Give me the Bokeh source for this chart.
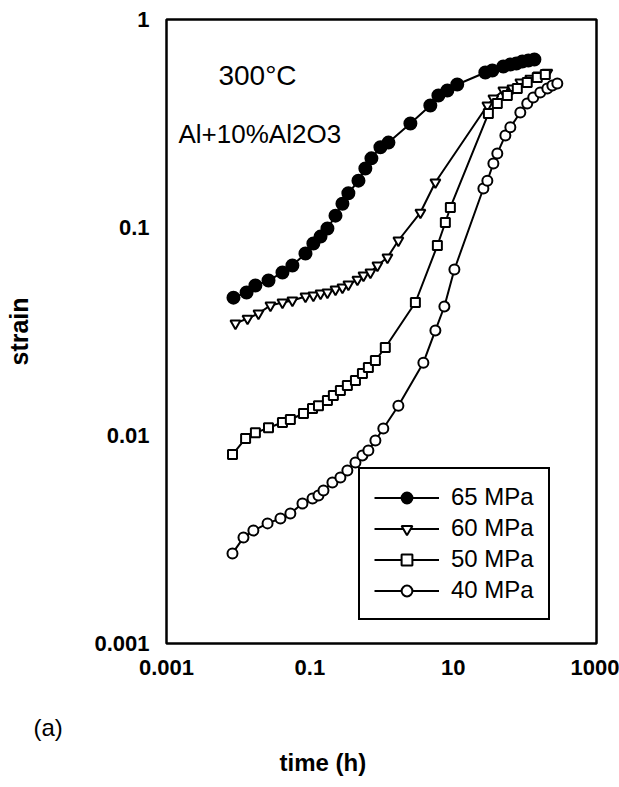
from bokeh.plotting import figure
from bokeh.models import Label, Legend, LegendItem, FixedTicker, CustomJSTickFormatter, Title
from bokeh.embed import file_html
from bokeh.resources import INLINE

# ---------------- data ----------------
t65 = [0.0086, 0.0131, 0.0174, 0.0265, 0.0415, 0.0571, 0.0869, 0.112, 0.141, 0.176,
       0.228, 0.285, 0.345, 0.477, 0.595, 0.723, 0.966, 1.25, 2.53, 4.8, 6.22, 8.3,
       11.4, 28.1, 35.2, 50.1, 62.8, 76.1, 92.3, 112, 136]
e65 = [0.046, 0.0487, 0.0526, 0.0556, 0.0608, 0.0657, 0.075, 0.0838, 0.0904, 0.0989,
       0.114, 0.130, 0.146, 0.168, 0.192, 0.215, 0.243, 0.256, 0.316, 0.386, 0.431, 0.456,
       0.487, 0.556, 0.569, 0.594, 0.608, 0.614, 0.628, 0.635, 0.642]

t60 = [0.00916, 0.0135, 0.0192, 0.0282, 0.0415, 0.0571, 0.0869, 0.112, 0.141, 0.176,
       0.228, 0.285, 0.345, 0.461, 0.56, 0.70, 0.877, 1.21, 1.72, 3.49, 5.65, 30, 36.4,
       50.1, 67, 86.5, 119, 154, 206]
e60 = [0.0346, 0.0365, 0.0386, 0.0422, 0.0436, 0.0446, 0.0466, 0.0471, 0.0482, 0.0487,
       0.0504, 0.0515, 0.0532, 0.0562, 0.0588, 0.0608, 0.0657, 0.0718, 0.0866, 0.118, 0.165,
       0.386, 0.417, 0.456, 0.466, 0.498, 0.520, 0.538, 0.556]

t50 = [0.00833, 0.0127, 0.0174, 0.0265, 0.0415, 0.0535, 0.0815, 0.109, 0.132, 0.176,
       0.213, 0.267, 0.334, 0.433, 0.542, 0.656, 0.822, 1.13, 2.97, 6.02, 7.78, 9.14, 31,
       41.3, 57, 78.5, 108, 149, 193]
e50 = [0.0081, 0.00968, 0.0103, 0.0109, 0.01155, 0.01194, 0.01276, 0.0135, 0.0139, 0.01473,
       0.01557, 0.01645, 0.01738, 0.01837, 0.01986, 0.02123, 0.02294, 0.0265, 0.0436, 0.0819,
       0.1057, 0.1248, 0.353, 0.395, 0.431, 0.466, 0.498, 0.526, 0.544]

t40 = [0.00833, 0.01186, 0.0163, 0.0257, 0.0389, 0.0535, 0.0789, 0.109, 0.132, 0.155,
       0.2065, 0.267, 0.334, 0.433, 0.542, 0.656, 0.822, 1.06, 1.72, 3.84, 5.65, 7.54, 10.4,
       26.4, 30, 36.4, 41.3, 53.5, 62.8, 86.5, 108, 131, 164, 206, 242, 284]
e40 = [0.00271, 0.00323, 0.00349, 0.00378, 0.00399, 0.00422, 0.00471, 0.00498, 0.00515,
       0.00544, 0.00594, 0.00628, 0.00679, 0.00741, 0.00802, 0.00847, 0.00946, 0.0108, 0.0139,
       0.0224, 0.032, 0.0417, 0.0628, 0.154, 0.168, 0.203, 0.227, 0.277, 0.303, 0.357, 0.395,
       0.422, 0.446, 0.466, 0.482, 0.492]

series_labels = ["65 MPa", "60 MPa", "50 MPa", "40 MPa"]

x_ticks = [0.001, 0.1, 10, 1000]
x_tick_labels = ["0.001", "0.1", "10", "1000"]
y_ticks = [0.001, 0.01, 0.1, 1]
y_tick_labels = ["0.001", "0.01", "0.1", "1"]

FONT = "Liberation Sans"

p = figure(width=619, height=787, x_axis_type="log", y_axis_type="log",
           x_range=(0.001, 1000), y_range=(0.001, 1),
           output_backend="svg", toolbar_location=None,
           min_border_left=166, min_border_right=23, min_border_top=19, min_border_bottom=144)
p.background_fill_color = "white"
p.border_fill_color = "white"
p.outline_line_color = "black"
p.outline_line_width = 2.5
p.grid.visible = False

fmt_code = """
for (let i = 0; i < t.length; i++) {
    if (Math.abs(Math.log10(tick / t[i])) < 1e-6) return l[i];
}
return '';
"""
p.xaxis.ticker = FixedTicker(ticks=x_ticks)
p.yaxis.ticker = FixedTicker(ticks=y_ticks)
p.xaxis.formatter = CustomJSTickFormatter(args=dict(t=x_ticks, l=x_tick_labels), code=fmt_code)
p.yaxis.formatter = CustomJSTickFormatter(args=dict(t=y_ticks, l=y_tick_labels), code=fmt_code)
for ax in (p.xaxis, p.yaxis):
    ax.axis_line_color = None
    ax.major_tick_line_color = None
    ax.minor_tick_line_color = None
    ax.major_label_text_font = FONT
    ax.major_label_text_font_size = "22px"
    ax.major_label_text_font_style = "bold"
    ax.major_label_text_color = "black"
p.xaxis.major_label_standoff = 10
p.yaxis.major_label_standoff = 11

p.yaxis.axis_label = "strain"
p.yaxis.axis_label_text_font = FONT
p.yaxis.axis_label_text_font_size = "25px"
p.yaxis.axis_label_text_font_style = "bold"
p.yaxis.axis_label_text_color = "black"
p.yaxis.axis_label_standoff = 58

specs = [
    (t65, e65, "circle", 12, "black"),
    (t60, e60, "inverted_triangle", 10, "white"),
    (t50, e50, "square", 9, "white"),
    (t40, e40, "circle", 10, "white"),
]
items = []
for (tx, ey, mk, sz, fc), lab in zip(specs, series_labels):
    ln = p.line(tx, ey, line_color="black", line_width=2)
    sc = p.scatter(tx, ey, marker=mk, size=sz, fill_color=fc, line_color="black", line_width=2)
    items.append(LegendItem(label=lab, renderers=[ln, sc]))

legend = Legend(items=items, location=(192, 23), orientation="vertical",
                label_text_font=FONT, label_text_font_size="24px", label_text_color="black",
                glyph_width=65, glyph_height=27, label_height=27, spacing=3,
                label_standoff=12, padding=14, margin=0,
                border_line_color="black", border_line_width=2, border_line_alpha=1.0,
                background_fill_color="white", background_fill_alpha=1.0)
p.add_layout(legend, "center")

def lab(text, x, y, size, align="center"):
    p.add_layout(Label(x=x, y=y, x_units="screen", y_units="screen", text=text,
                       text_font=FONT, text_font_size=size, text_align=align,
                       text_baseline="middle", text_color="black"))

lab("300°C", 91, 568, "28px")
lab("Al+10%Al2O3", 12, 510, "26px", align="left")

# spacer between the x axis and the "(a)" tag
p.add_layout(Title(text=" ", standoff=26, text_font_size="1px"), "below")
p.add_layout(Title(text="(a)", align="left", offset=-133, standoff=11,
                   text_font=FONT, text_font_size="24px", text_font_style="normal",
                   text_color="black"), "below")
p.add_layout(Title(text="time (h)", align="left", offset=113, standoff=0,
                   text_font=FONT, text_font_size="24px", text_font_style="bold",
                   text_color="black"), "below")

open("out.html", "w").write(file_html(p, INLINE))
